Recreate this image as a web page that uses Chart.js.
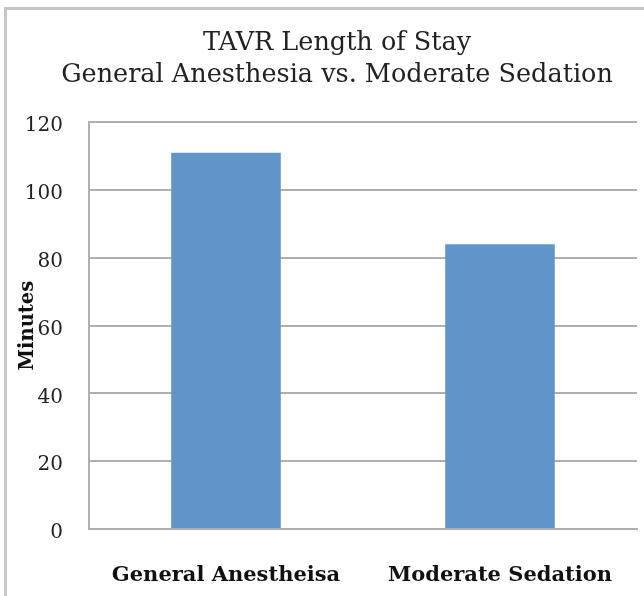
<!DOCTYPE html>
<html>
<head>
<meta charset="utf-8">
<script src="https://cdn.jsdelivr.net/npm/chart.js@4/dist/chart.umd.min.js"></script>
<style>
  html, body { margin: 0; padding: 0; background: #ffffff; }
  #wrap { position: relative; width: 644px; height: 596px; overflow: hidden; }
  #frame { position: absolute; left: 4px; top: 7px; width: 700px; height: 700px;
           border-left: 3px solid #c6c6c6; border-top: 3px solid #c6c6c6; }
  canvas { position: absolute; left: 0; top: 0; }
</style>
</head>
<body>
<div id="wrap">
  <div id="frame"></div>
  <canvas id="c" width="644" height="596"></canvas>
</div>
<script>
const categories = ["General Anestheisa", "Moderate Sedation"];
const minutes = [111, 84];
const yTicks = [0, 20, 40, 60, 80, 100, 120];
const titleLines = ["TAVR Length of Stay", "General Anesthesia vs. Moderate Sedation"];
const yTitle = "Minutes";

const SERIF = "'DejaVu Serif', serif";

const shiftTitle = {
  id: 'shiftTitle',
  afterLayout(chart) {
    if (chart.titleBlock) { chart.titleBlock.left = 37; chart.titleBlock.right = 637; }
  }
};

new Chart(document.getElementById('c'), {
  type: 'bar',
  data: {
    labels: categories,
    datasets: [{
      label: yTitle,
      data: minutes,
      backgroundColor: '#6195c9',
      borderWidth: 0,
      barPercentage: 0.4,
      categoryPercentage: 1.0
    }]
  },
  plugins: [shiftTitle],
  options: {
    responsive: false,
    animation: false,
    devicePixelRatio: 1,
    layout: { padding: { left: 0, right: 7, top: 0, bottom: 0 } },
    plugins: {
      legend: { display: false },
      tooltip: { enabled: false },
      title: {
        display: true,
        text: titleLines,
        color: '#222222',
        font: { family: SERIF, size: 25.5, weight: 'normal', lineHeight: 1.26 },
        padding: { top: 27, bottom: 31 }
      }
    },
    scales: {
      x: {
        afterFit: (s) => { s.height = 67; s.paddingLeft = 0; s.paddingRight = 0; },
        grid: { display: false, drawTicks: false },
        border: { display: true, color: '#b0b0b0', width: 2 },
        ticks: {
          color: '#111111',
          font: { family: SERIF, size: 21, weight: 'bold' },
          padding: 34,
          maxRotation: 0
        }
      },
      y: {
        min: 0,
        max: 120,
        afterBuildTicks: (s) => { s.ticks = yTicks.map(v => ({ value: v })); },
        afterFit: (s) => { s.width = 89; },
        grid: { color: '#b0b0b0', lineWidth: 2, drawTicks: false },
        border: { display: true, color: '#b0b0b0', width: 2 },
        ticks: {
          color: '#222222',
          font: { family: SERIF, size: 20 },
          padding: 26,
          labelOffset: 4
        },
        title: {
          display: true,
          text: yTitle,
          color: '#111111',
          font: { family: SERIF, size: 19.5, weight: 'bold' },
          padding: { top: 16, bottom: 0 }
        }
      }
    }
  }
});
</script>
</body>
</html>
